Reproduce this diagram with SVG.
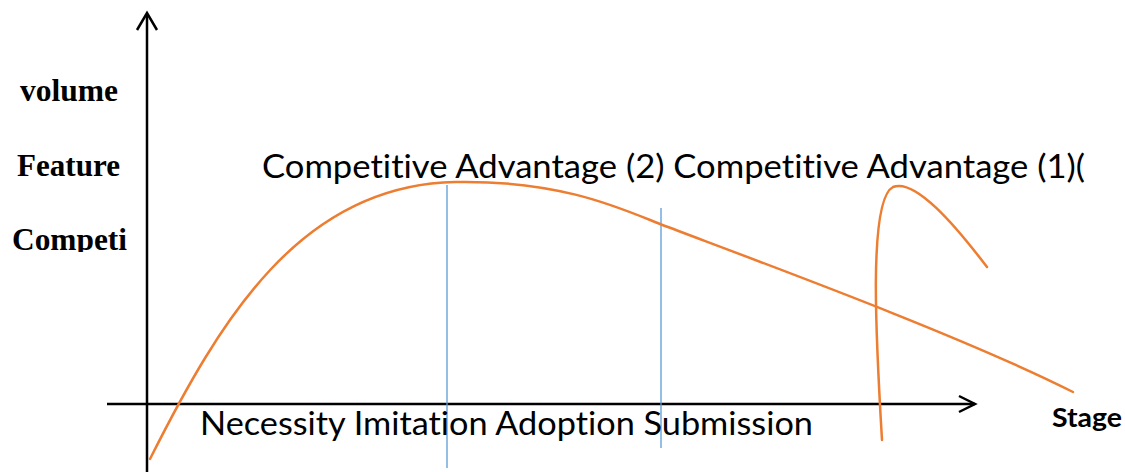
<svg xmlns="http://www.w3.org/2000/svg" width="1125" height="472" viewBox="0 0 1125 472">
  <style>
    .axis { stroke: #000; stroke-width: 2.5; fill: none; }
    .curve { stroke: #ED7D31; stroke-width: 2.5; fill: none; stroke-linecap: round; }
    .divider { stroke: #5B9BD5; stroke-width: 1.3; }
    .ylabel { font-family: "Liberation Serif", "Times New Roman", serif; font-weight: bold; font-size: 31px; fill: #000; }
    .caption { font-family: Lato, "Open Sans", "Liberation Sans", sans-serif; font-size: 33px; fill: #000; font-variant-ligatures: none; }
    .stage { font-family: Lato, "Open Sans", "Liberation Sans", sans-serif; font-weight: bold; font-size: 26px; fill: #000; }
  </style>
  <defs>
    <clipPath id="labelClip">
      <rect x="0" y="0" width="140" height="252"/>
    </clipPath>
  </defs>

  <!-- axes -->
  <g id="axes">
    <line class="axis" x1="147" y1="14" x2="147" y2="472"/>
    <polyline class="axis" points="137,30 147,13 157,30"/>
    <line class="axis" x1="107" y1="404" x2="975" y2="404"/>
    <polyline class="axis" points="959,396 975,404 959,412"/>
  </g>

  <!-- y-axis labels -->
  <g id="y-labels" clip-path="url(#labelClip)">
    <text class="ylabel" x="20" y="101" textLength="98" lengthAdjust="spacingAndGlyphs">volume</text>
    <text class="ylabel" x="17" y="176" textLength="103" lengthAdjust="spacingAndGlyphs">Feature</text>
    <text class="ylabel" x="12" y="250" textLength="115" lengthAdjust="spacingAndGlyphs">Competi</text>
  </g>

  <!-- stage dividers -->
  <g id="dividers">
    <line class="divider" x1="447" y1="185" x2="447" y2="468"/>
    <line class="divider" x1="661" y1="208" x2="661" y2="448"/>
  </g>

  <!-- curves -->
  <g id="curves">
    <path class="curve" d="M150,459 C220,320 300,185 455,182 C560,180 620,208 660,224 C760,262 960,335 1073,392"/>
    <path class="curve" d="M882,440 C876,340 868,200 893,187 C915,178 955,225 987,267"/>
  </g>

  <!-- captions -->
  <g id="captions">
    <text class="caption" x="262" y="178" textLength="823" lengthAdjust="spacingAndGlyphs">Competitive Advantage (2) Competitive Advantage (1)(</text>
    <text class="caption" x="200" y="435" textLength="613" lengthAdjust="spacingAndGlyphs">Necessity Imitation Adoption Submission</text>
    <text class="stage" x="1052" y="427" textLength="70" lengthAdjust="spacingAndGlyphs">Stage</text>
  </g>
</svg>
